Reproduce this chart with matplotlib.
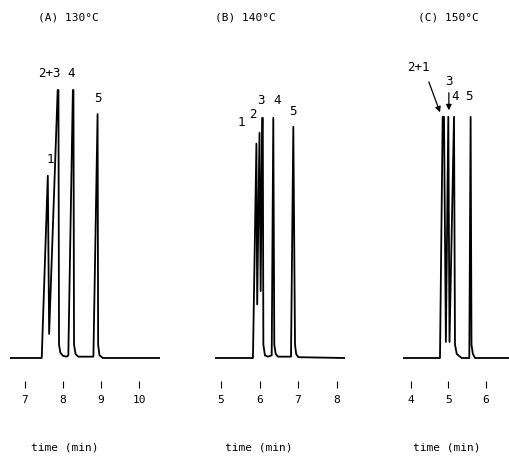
import matplotlib
matplotlib.use("Agg")
import matplotlib.pyplot as plt

time_a = [6.605, 7.44, 7.60, 7.635, 7.86, 7.88, 7.895, 7.93, 8.00, 8.10, 8.14,
          8.26, 8.275, 8.29, 8.33, 8.40, 8.80, 8.91, 8.925, 8.96, 9.05, 10.553]
sig_a = [0, 0, 68, 9, 100, 100, 5, 2, 0.8, 0.5, 1,
         100, 100, 5, 1.5, 0.5, 0.5, 91, 5, 1, 0, 0]

time_b = [4.847, 5.83, 5.92, 5.94, 6.00, 6.03, 6.07, 6.085, 6.10, 6.14, 6.22,
          6.316, 6.357, 6.383, 6.42, 6.48, 6.816, 6.876, 6.92, 6.95, 7.005, 8.215]
sig_b = [0, 0, 80, 20, 84, 25, 89.6, 89.6, 5, 1, 0.5,
         1, 89.6, 5, 1.5, 0.5, 0.5, 86.3, 5, 1.5, 0.3, 0]

time_c = [3.787, 4.773, 4.845, 4.88, 4.93, 4.995, 5.027, 5.147, 5.173, 5.22, 5.35,
          5.555, 5.59, 5.613, 5.65, 5.71, 6.64]
sig_c = [0, 0, 90, 90, 6, 90, 6, 90, 5, 1.5, 0,
         0, 90, 5, 1.5, 0, 0]

titles = ["(A) 130°C", "(B) 140°C", "(C) 150°C"]
ticks_a = [7, 8, 9, 10]
ticks_b = [5, 6, 7, 8]
ticks_c = [4, 5, 6]

# etiquetas de picos: (texto, tiempo, altura)
labels_a = [("2+3", 7.63, 106), ("4", 8.21, 106), ("1", 7.66, 74), ("5", 8.92, 97)]
labels_b = [("1", 5.54, 88), ("2", 5.83, 91), ("3", 6.03, 96), ("4", 6.445, 96), ("5", 6.86, 92)]
labels_c = [("2+1", 4.19, 108.5), ("3", 5.01, 103), ("4", 5.17, 97.4), ("5", 5.55, 97.4)]

W, H = 510, 458
fig = plt.figure(figsize=(W / 100, H / 100), dpi=100)
fnt = "DejaVu Sans Mono"

# posiciones en pixeles de cada panel: x0, x1, xlim, centro titulo, centro "time (min)"
panels = [
    (10, 160, (6.605, 10.553), time_a, sig_a, ticks_a, labels_a, titles[0], 68, 65),
    (215, 345, (4.847, 8.215), time_b, sig_b, ticks_b, labels_b, titles[1], 245, 259),
    (403, 510, (3.787, 6.64), time_c, sig_c, ticks_c, labels_c, titles[2], 448, 447),
]

y_bot, y_top = 381, 57
ylim = (-(y_bot - 358) / 2.68, (358 - y_top) / 2.68)

axes = []
for x0, x1, xl, t, s, tk, labs, title, tx, lx in panels:
    ax = fig.add_axes([x0 / W, 1 - y_bot / H, (x1 - x0) / W, (y_bot - y_top) / H])
    ax.plot(t, s, color="black", lw=1.3)
    ax.set_xlim(xl)
    ax.set_ylim(ylim)
    for sp in ax.spines.values():
        sp.set_visible(False)
    ax.set_yticks([])
    ax.set_xticks(tk)
    ax.set_xticklabels([str(v) for v in tk], fontfamily=fnt, fontsize=8)
    ax.tick_params(axis="x", direction="out", length=5, width=0.8, pad=5)
    ax.patch.set_alpha(0)
    for txt, xt, yt in labs:
        ax.text(xt, yt, txt, ha="center", va="center", fontfamily=fnt, fontsize=9)
    fig.text(tx / W, 1 - 18 / H, title, ha="center", va="center", fontfamily=fnt, fontsize=8)
    fig.text(lx / W, 1 - 447 / H, "time (min)", ha="center", va="center", fontfamily=fnt, fontsize=8)
    axes.append(ax)

# flechas del panel C
ax_c = axes[2]
ax_c.annotate("", xy=(4.80, 90.7), xytext=(4.45, 104),
              arrowprops=dict(arrowstyle="-|>", color="black", lw=0.9, mutation_scale=8))
ax_c.annotate("", xy=(5.01, 91.4), xytext=(5.01, 100),
              arrowprops=dict(arrowstyle="-|>", color="black", lw=0.9, mutation_scale=8))

fig.savefig("out.png", dpi=100)
